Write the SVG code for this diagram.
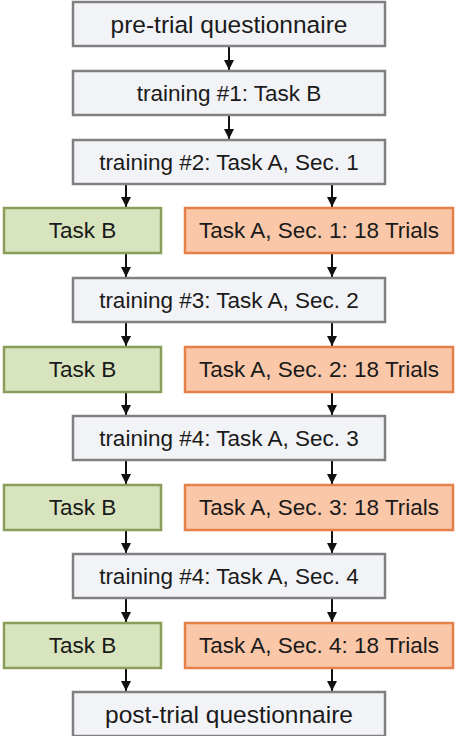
<svg xmlns="http://www.w3.org/2000/svg" width="455" height="736" viewBox="0 0 455 736">
<defs>
<marker id="ah" viewBox="0 0 10 10" refX="10" refY="5" markerWidth="10" markerHeight="10" markerUnits="userSpaceOnUse" orient="auto">
<path d="M0,0 L10,5 L0,10 z" fill="#111"/>
</marker>
<style>
.g rect{fill:#f2f3f6;stroke:#808080;stroke-width:2.5}
.b rect{fill:#d7e4bd;stroke:#8a9e5c;stroke-width:2.5}
.o rect{fill:#fac8a9;stroke:#e5804a;stroke-width:2.5}
text{font-family:"Liberation Sans",Arial,sans-serif;font-size:22.5px;fill:#1a1a1a;text-anchor:middle;dominant-baseline:central}
text.q{font-size:24.5px}
#conn line{stroke:#111;stroke-width:2;marker-end:url(#ah)}
</style>
</defs>
<g id="conn">
<line x1="229" y1="46" x2="229" y2="70"/>
<line x1="229" y1="115" x2="229" y2="139"/>
<line x1="126" y1="184" x2="126" y2="207"/>
<line x1="332" y1="184" x2="332" y2="207"/>
<line x1="126" y1="253" x2="126" y2="277"/>
<line x1="332" y1="253" x2="332" y2="277"/>
<line x1="126" y1="322" x2="126" y2="346"/>
<line x1="332" y1="322" x2="332" y2="346"/>
<line x1="126" y1="391" x2="126" y2="415"/>
<line x1="332" y1="391" x2="332" y2="415"/>
<line x1="126" y1="460" x2="126" y2="484"/>
<line x1="332" y1="460" x2="332" y2="484"/>
<line x1="126" y1="529" x2="126" y2="553"/>
<line x1="332" y1="529" x2="332" y2="553"/>
<line x1="126" y1="598" x2="126" y2="622"/>
<line x1="332" y1="598" x2="332" y2="622"/>
<line x1="126" y1="667" x2="126" y2="691"/>
<line x1="332" y1="667" x2="332" y2="691"/>
</g>
<g id="pre" class="g"><rect x="73" y="2" width="312" height="44"/><text class="q" x="229" y="24">pre-trial questionnaire</text></g>
<g id="t1" class="g"><rect x="73" y="71" width="312" height="44"/><text x="229" y="93">training #1: Task B</text></g>
<g id="t2" class="g"><rect x="73" y="140" width="312" height="44"/><text x="229" y="162">training #2: Task A, Sec. 1</text></g>
<g id="b1" class="b"><rect x="4" y="208" width="157" height="45"/><text x="82.5" y="230.5">Task B</text></g>
<g id="a1" class="o"><rect x="185" y="208" width="268" height="45"/><text x="319" y="230.5">Task A, Sec. 1: 18 Trials</text></g>
<g id="t3" class="g"><rect x="73" y="278" width="312" height="44"/><text x="229" y="300">training #3: Task A, Sec. 2</text></g>
<g id="b2" class="b"><rect x="4" y="347" width="157" height="45"/><text x="82.5" y="369.5">Task B</text></g>
<g id="a2" class="o"><rect x="185" y="347" width="268" height="45"/><text x="319" y="369.5">Task A, Sec. 2: 18 Trials</text></g>
<g id="t4" class="g"><rect x="73" y="416" width="312" height="44"/><text x="229" y="438">training #4: Task A, Sec. 3</text></g>
<g id="b3" class="b"><rect x="4" y="485" width="157" height="45"/><text x="82.5" y="507.5">Task B</text></g>
<g id="a3" class="o"><rect x="185" y="485" width="268" height="45"/><text x="319" y="507.5">Task A, Sec. 3: 18 Trials</text></g>
<g id="t5" class="g"><rect x="73" y="554" width="312" height="44"/><text x="229" y="576">training #4: Task A, Sec. 4</text></g>
<g id="b4" class="b"><rect x="4" y="623" width="157" height="45"/><text x="82.5" y="645.5">Task B</text></g>
<g id="a4" class="o"><rect x="185" y="623" width="268" height="45"/><text x="319" y="645.5">Task A, Sec. 4: 18 Trials</text></g>
<g id="post" class="g"><rect x="73" y="692" width="312" height="44"/><text class="q" x="229" y="714">post-trial questionnaire</text></g>
</svg>
